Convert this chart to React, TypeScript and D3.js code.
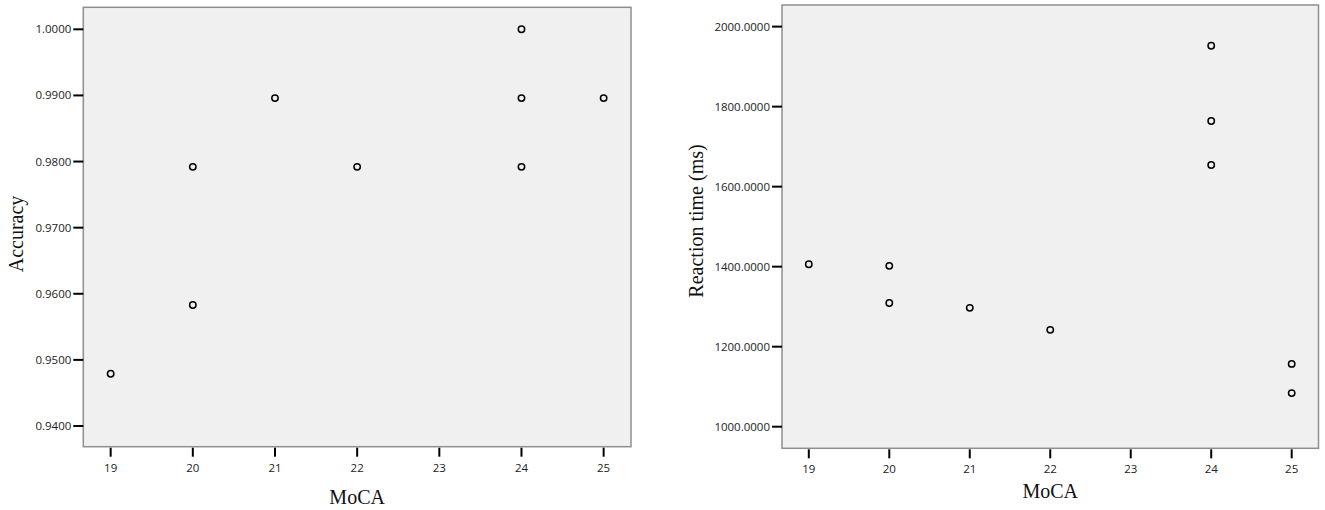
import React from "react";
import * as d3 from "d3";

// Left panel: MoCA vs Accuracy
const accMoca = [19, 20, 20, 21, 22, 24, 24, 24, 25];
const accValues = [0.9479, 0.9792, 0.9583, 0.9896, 0.9792, 1.0, 0.9896, 0.9792, 0.9896];

// Right panel: MoCA vs Reaction time
const rtMoca = [19, 20, 20, 21, 22, 24, 24, 24, 25, 25];
const rtValues = [1406, 1402, 1309, 1297, 1242, 1952, 1764, 1654, 1157, 1084];

const mocaTicks = [19, 20, 21, 22, 23, 24, 25];
const accTicks = [0.94, 0.95, 0.96, 0.97, 0.98, 0.99, 1.0];
const rtTicks = [1000, 1200, 1400, 1600, 1800, 2000];

const TICK_FONT = "'Open Sans', 'Noto Sans', sans-serif";
const TITLE_FONT = "'Liberation Serif', 'DejaVu Serif', serif";

type PanelProps = {
  x0: number; x1: number; y0: number; y1: number;
  xDomain: [number, number]; yDomain: [number, number];
  xs: number[]; ys: number[];
  yTicks: number[]; yFmt: (v: number) => string;
  yTitle: string; yTitleX: number; yTitleY: number;
  xTitleY: number;
};

function Panel(p: PanelProps) {
  const x = d3.scaleLinear().domain(p.xDomain).range([p.x0, p.x1]);
  const y = d3.scaleLinear().domain(p.yDomain).range([p.y1, p.y0]);
  return (
    <g>
      <rect x={p.x0} y={p.y0} width={p.x1 - p.x0} height={p.y1 - p.y0}
        fill="#f0f0f0" stroke="#8f8f8f" strokeWidth={1.5} />
      {p.yTicks.map((t) => (
        <g key={"y" + t}>
          <line x1={p.x0 - 10} x2={p.x0} y1={y(t)} y2={y(t)} stroke="#000" strokeWidth={2} />
          <text x={p.x0 - 12} y={y(t)} dy="0.35em" textAnchor="end"
            fontFamily={TICK_FONT} fontSize={11.5} fill="#222">{p.yFmt(t)}</text>
        </g>
      ))}
      {mocaTicks.map((t) => (
        <g key={"x" + t}>
          <line x1={x(t)} x2={x(t)} y1={p.y1 + 1} y2={p.y1 + 10} stroke="#000" strokeWidth={2} />
          <text x={x(t)} y={p.y1 + 21} dy="0.35em" textAnchor="middle"
            fontFamily={TICK_FONT} fontSize={11.5} fill="#222">{t}</text>
        </g>
      ))}
      {p.xs.map((xv, i) => (
        <circle key={i} cx={x(xv)} cy={y(p.ys[i])} r={3.2}
          fill="none" stroke="#000" strokeWidth={1.5} />
      ))}
      <text x={(p.x0 + p.x1) / 2} y={p.xTitleY} dy="0.35em" textAnchor="middle"
        fontFamily={TITLE_FONT} fontSize={20} fill="#111">MoCA</text>
      <text transform={`translate(${p.yTitleX},${p.yTitleY}) rotate(-90)`} dy="0.35em"
        textAnchor="middle" fontFamily={TITLE_FONT} fontSize={20} fill="#111">{p.yTitle}</text>
    </g>
  );
}

export default function App() {
  return (
    <svg width={1325} height={510} style={{ position: "absolute", left: 0, top: 0, background: "#fff" }}>
      <Panel x0={83.3} x1={631} y0={7.3} y1={446.7}
        xDomain={[18.667, 25.333]} yDomain={[0.93687, 1.00333]}
        xs={accMoca} ys={accValues} yTicks={accTicks} yFmt={d3.format(".4f")}
        yTitle="Accuracy" yTitleX={16} yTitleY={234} xTitleY={497} />
      <Panel x0={782} x1={1318.5} y0={5} y1={448.3}
        xDomain={[18.667, 25.333]} yDomain={[946, 2054]}
        xs={rtMoca} ys={rtValues} yTicks={rtTicks} yFmt={d3.format(".4f")}
        yTitle="Reaction time (ms)" yTitleX={696} yTitleY={221} xTitleY={491} />
    </svg>
  );
}
